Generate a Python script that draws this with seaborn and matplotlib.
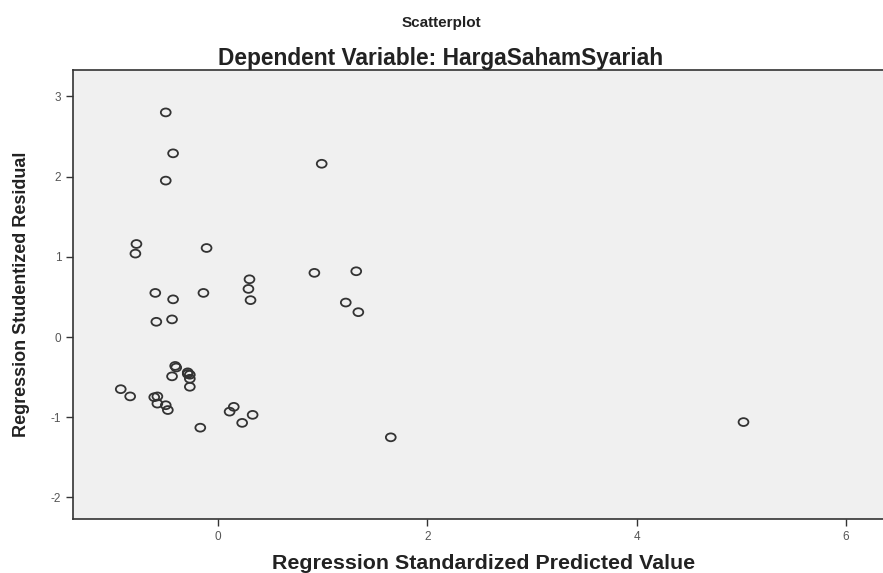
import matplotlib
matplotlib.use("Agg")
import matplotlib.pyplot as plt
from matplotlib.path import Path
from matplotlib.transforms import Affine2D
import seaborn as sns
import pandas as pd

predicted = [-0.50, -0.43, -0.50, 0.99, -0.78, -0.79, -0.11, 0.30, 0.29, 0.31,
             0.92, 1.32, 1.22, 1.34, -0.60, -0.43, -0.14, -0.59, -0.44, -0.41,
             -0.40, -0.44, -0.29, -0.27, -0.27, -0.27, -0.93, -0.84, -0.61, -0.58,
             -0.58, -0.50, -0.48, 0.15, 0.11, 0.33, 0.23, -0.17, 1.65, 5.02, -0.29]
residual = [2.80, 2.29, 1.95, 2.16, 1.16, 1.04, 1.11, 0.72, 0.60, 0.46,
            0.80, 0.82, 0.43, 0.31, 0.55, 0.47, 0.55, 0.19, 0.22, -0.36,
            -0.38, -0.49, -0.44, -0.47, -0.52, -0.62, -0.65, -0.74, -0.75, -0.74,
            -0.83, -0.85, -0.91, -0.87, -0.93, -0.97, -1.07, -1.13, -1.25, -1.06, -0.46]

df = pd.DataFrame({"pred": predicted, "resid": residual})

sns.set_theme(style="white")
plt.rcParams['font.family'] = ['Liberation Sans', 'DejaVu Sans']
plt.rcParams['axes.unicode_minus'] = False

ellipse = Path.unit_circle().transformed(Affine2D().scale(1.0, 0.8))

fig = plt.figure(figsize=(8.83, 5.73), dpi=100)
ax = fig.add_axes([0.0827, 0.094, 0.93, 0.784])
ax.set_facecolor("#f0f0f0")

sns.scatterplot(data=df, x="pred", y="resid", ax=ax, marker=ellipse,
                facecolors="none", edgecolor="#333333", linewidth=1.3, s=50)

ax.set_xlim(-1.386, 6.46)
ax.set_ylim(-2.27, 3.33)
ax.set_xticks([0, 2, 4, 6])
ax.set_yticks([-2, -1, 0, 1, 2, 3])
ax.tick_params(axis="both", direction="out", length=5, width=1, colors="#333333",
               labelsize=8.5, labelcolor="#555555", bottom=True, left=True)

for side in ["left", "bottom", "top"]:
    ax.spines[side].set_color("#333333")
    ax.spines[side].set_linewidth(1.2)
ax.spines["right"].set_visible(False)

ax.set_xlabel("Regression Standardized Predicted Value", fontsize=15.4,
              fontweight="bold", color="#222222", labelpad=8)
ax.set_ylabel("Regression Studentized Residual", fontsize=13,
              fontweight="bold", color="#222222", labelpad=15)

fig.text(0.5, 0.96, "Scatterplot", ha="center", va="center",
         fontsize=11, fontweight="bold", color="#222222")
fig.text(0.499, 0.898, "Dependent Variable: HargaSahamSyariah", ha="center",
         va="center", fontsize=16.4, fontweight="bold", color="#222222")

fig.savefig("out.png", dpi=100)
